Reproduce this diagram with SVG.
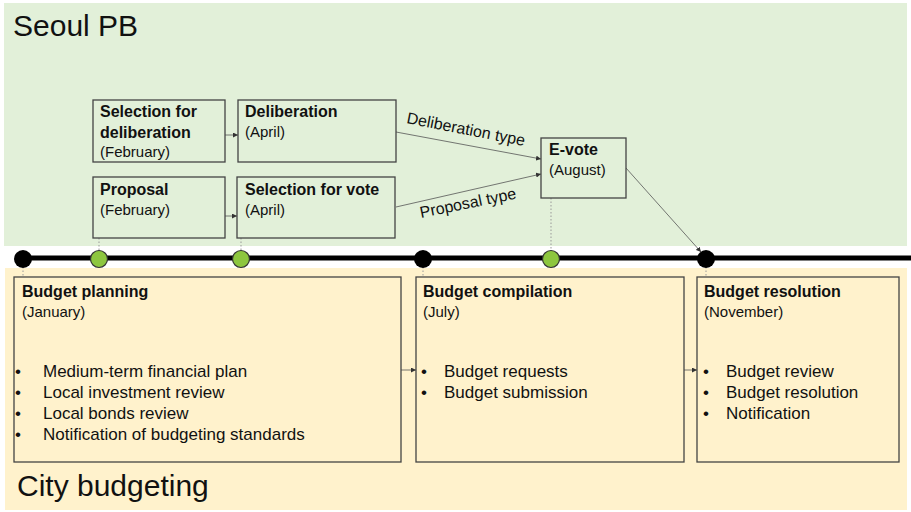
<svg xmlns="http://www.w3.org/2000/svg" width="911" height="512" viewBox="0 0 911 512">
<defs>
<marker id="arr" viewBox="0 0 10 10" refX="10" refY="5" markerWidth="5" markerHeight="5" orient="auto" markerUnits="userSpaceOnUse">
<path d="M0,0 L10,5 L0,10 z" fill="#333"/>
</marker>
<style>
text{font-family:"Liberation Sans",Arial,sans-serif;fill:#111}
.box{fill:none;stroke:#444;stroke-width:1.3}
.t{font-weight:bold;font-size:16px}
.s{font-size:15px}
.b{font-size:17px}
.lbl{font-size:16px}
.big{font-size:30px}
.con{stroke:#555;stroke-width:0.8;fill:none;marker-end:url(#arr)}
.dot{stroke:#999;stroke-width:1;stroke-dasharray:1.5 2;fill:none}
.bd{fill:#000}
.gd{fill:#8dc63f;stroke:#333;stroke-width:1.2}
</style>
</defs>
<rect x="4" y="3" width="903" height="243" fill="#e2f0d9"/>
<rect x="5" y="268" width="902" height="242" fill="#fff2cc"/>
<text class="big" x="13" y="36">Seoul PB</text>
<text class="big" x="17" y="496">City budgeting</text>

<g id="connectors">
<line class="dot" x1="99" y1="238" x2="99" y2="250"/>
<line class="dot" x1="241" y1="238" x2="241" y2="250"/>
<line class="dot" x1="551" y1="198" x2="551" y2="250"/>
<line class="dot" x1="23" y1="267" x2="23" y2="277"/>
<line class="dot" x1="423" y1="267" x2="423" y2="277"/>
<line class="dot" x1="706" y1="267" x2="706" y2="277"/>
<line class="con" x1="225" y1="135" x2="238" y2="135"/>
<line class="con" x1="225" y1="216" x2="237" y2="216"/>
<line class="con" x1="396" y1="132" x2="541" y2="159"/>
<line class="con" x1="396" y1="207" x2="541" y2="174"/>
<line class="con" x1="626" y1="168" x2="701" y2="252"/>
<line class="con" x1="401" y1="370" x2="416" y2="370"/>
<line class="con" x1="684" y1="370" x2="697" y2="370"/>
<text class="lbl" transform="translate(406,123) rotate(11)">Deliberation type</text>
<text class="lbl" transform="translate(421,218) rotate(-11.5)">Proposal type</text>
</g>

<g id="timeline">
<line x1="23" y1="258" x2="911" y2="258" stroke="#000" stroke-width="5"/>
<circle class="bd" cx="23" cy="259" r="9"/>
<circle class="gd" cx="99" cy="259" r="8.5"/>
<circle class="gd" cx="241" cy="259" r="8.5"/>
<circle class="bd" cx="423" cy="259" r="9"/>
<circle class="gd" cx="551" cy="259" r="8.5"/>
<circle class="bd" cx="706" cy="259" r="9"/>
</g>

<g id="sel-delib">
<rect class="box" x="93" y="100" width="132" height="62"/>
<text class="t" x="100" y="117">Selection for</text>
<text class="t" x="100" y="138">deliberation</text>
<text class="s" x="100" y="157">(February)</text>
</g>
<g id="deliberation">
<rect class="box" x="238" y="100" width="158" height="62"/>
<text class="t" x="245" y="117">Deliberation</text>
<text class="s" x="245" y="137">(April)</text>
</g>
<g id="proposal">
<rect class="box" x="93" y="177" width="132" height="61"/>
<text class="t" x="100" y="195">Proposal</text>
<text class="s" x="100" y="215">(February)</text>
</g>
<g id="sel-vote">
<rect class="box" x="237" y="177" width="158" height="61"/>
<text class="t" x="245" y="195">Selection for vote</text>
<text class="s" x="245" y="215">(April)</text>
</g>
<g id="evote">
<rect class="box" x="541" y="138" width="85" height="60"/>
<text class="t" x="549" y="155">E-vote</text>
<text class="s" x="549" y="175">(August)</text>
</g>

<g id="planning">
<rect class="box" x="14" y="277" width="387" height="185"/>
<text class="t" x="22" y="297">Budget planning</text>
<text class="s" x="22" y="317">(January)</text>
<text class="b" x="15" y="377">•</text><text class="b" x="43" y="377">Medium-term financial plan</text>
<text class="b" x="15" y="398">•</text><text class="b" x="43" y="398">Local investment review</text>
<text class="b" x="15" y="419">•</text><text class="b" x="43" y="419">Local bonds review</text>
<text class="b" x="15" y="440">•</text><text class="b" x="43" y="440">Notification of budgeting standards</text>
</g>
<g id="compilation">
<rect class="box" x="416" y="277" width="268" height="185"/>
<text class="t" x="423" y="297">Budget compilation</text>
<text class="s" x="423" y="317">(July)</text>
<text class="b" x="421" y="377">•</text><text class="b" x="444" y="377">Budget requests</text>
<text class="b" x="421" y="398">•</text><text class="b" x="444" y="398">Budget submission</text>
</g>
<g id="resolution">
<rect class="box" x="697" y="277" width="202" height="185"/>
<text class="t" x="704" y="297">Budget resolution</text>
<text class="s" x="704" y="317">(November)</text>
<text class="b" x="703" y="377">•</text><text class="b" x="726" y="377">Budget review</text>
<text class="b" x="703" y="398">•</text><text class="b" x="726" y="398">Budget resolution</text>
<text class="b" x="703" y="419">•</text><text class="b" x="726" y="419">Notification</text>
</g>
</svg>
